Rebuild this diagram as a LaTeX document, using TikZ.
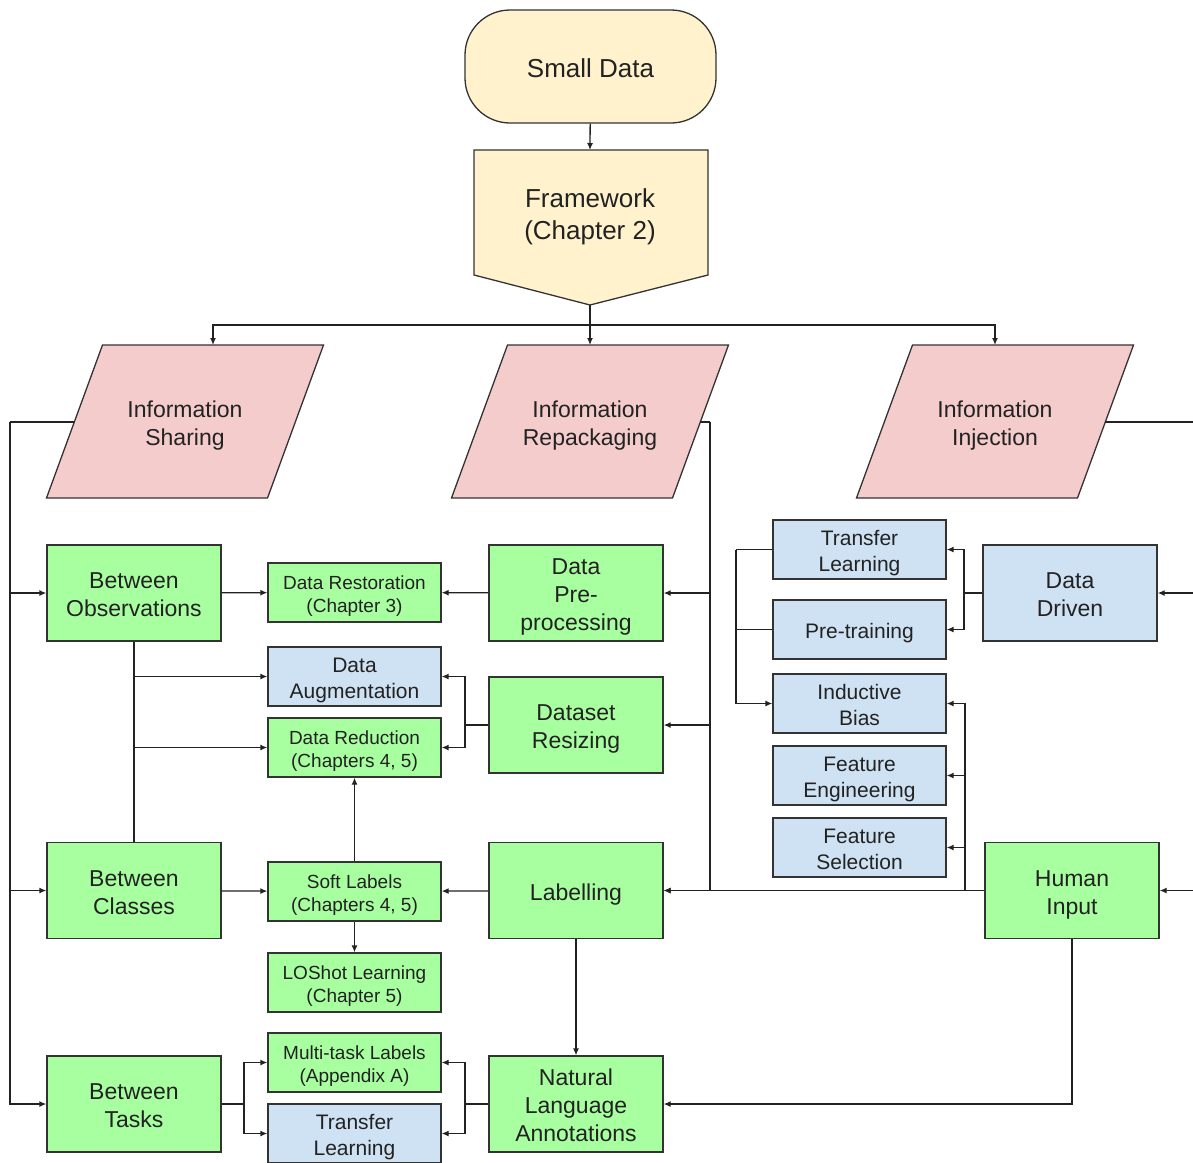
\documentclass[tikz,border=0pt]{standalone}
\usepackage{fontspec}
\setmainfont{Liberation Sans}
\usetikzlibrary{arrows.meta}

\definecolor{cream}{RGB}{255,242,204}
\definecolor{pinkfill}{RGB}{244,204,204}
\definecolor{greenfill}{RGB}{168,255,160}
\definecolor{bluefill}{RGB}{207,226,243}
\definecolor{edgec}{RGB}{51,51,51}
\definecolor{linec}{RGB}{34,34,34}
\definecolor{textc}{RGB}{34,34,34}

% strut for the first line of a label: fixed ascent above the first baseline
\newcommand{\fl}{\rule{0pt}{\dimexpr0.95em+3pt\relax}}

\begin{document}
\begin{tikzpicture}[x=1pt,y=-1pt,
  % fixed descent below the last baseline, with or without descenders
  vfix/.style={execute at end node={\rule[-0.22em]{0pt}{0pt}}},
  base/.style={draw=edgec, line width=1.3pt, align=center, inner sep=0pt, text=textc, vfix},
  bigbox/.style={base, fill=greenfill, minimum width=174pt, minimum height=96pt,
                 font=\fontsize{23}{28}\selectfont},
  bigblue/.style={bigbox, fill=bluefill},
  smallg/.style={base, fill=greenfill, minimum width=173pt, minimum height=59pt,
                 font=\fontsize{19}{23.5}\selectfont},
  smallb/.style={base, fill=bluefill, minimum width=173pt, minimum height=59pt,
                 font=\fontsize{21}{26}\selectfont},
  plain/.style={align=center, inner sep=0pt, text=textc, vfix},
  link/.style={draw=linec, line width=1.3pt},
  arr/.style={link, -{Latex[length=7pt,width=6pt]}}]

\useasboundingbox (0,0) rectangle (1193,1162);

% ---------- top: start and framework ----------
\node[base, fill=cream, rounded corners=45pt, minimum width=251pt, minimum height=113pt,
      font=\fontsize{26}{32}\selectfont] (small) at (590.5,66.5) {\fl Small Data};

\draw[draw=edgec, line width=1.3pt, fill=cream] (474,150) -- (708,150) -- (708,275) -- (590,305) -- (474,275) -- cycle;
\node[plain, font=\fontsize{26}{32}\selectfont] (fw) at (590,213) {\fl Framework\\(Chapter 2)};
\coordinate (fwN) at (590,150);
\coordinate (fwS) at (590,305);
\coordinate (split) at (590,325);

% ---------- the three information parallelograms ----------
\begin{scope}[draw=edgec, line width=1.3pt, fill=pinkfill]
\filldraw (102.5,345) -- (323.5,345) -- (267.5,498) -- (46.5,498) -- cycle;
\filldraw (507.5,345) -- (728.5,345) -- (672.5,498) -- (451.5,498) -- cycle;
\filldraw (912.5,345) -- (1133.5,345) -- (1077.5,498) -- (856.5,498) -- cycle;
\end{scope}
\node[plain, font=\fontsize{23}{28}\selectfont] (ishare) at (185,422) {\fl Information\\Sharing};
\node[plain, font=\fontsize{23}{28}\selectfont] (irep) at (590,422) {\fl Information\\Repackaging};
\node[plain, font=\fontsize{23}{28}\selectfont] (iinj) at (995,422) {\fl Information\\Injection};
\coordinate (ishareN) at (213,345);
\coordinate (irepN) at (590,345);
\coordinate (iinjN) at (995,345);
\coordinate (ishareW) at (74.3,422);
\coordinate (irepE) at (700.3,422);
\coordinate (iinjE) at (1105.3,422);

% ---------- left column ----------
\node[bigbox] (bobs) at (134,593) {\fl Between\\Observations};
\node[bigbox] (bcls) at (134,890.5) {\fl Between\\Classes};
\node[bigbox] (btask) at (134,1104) {\fl Between\\Tasks};

% ---------- second column ----------
\node[smallg] (drest) at (354.5,592.5) {\fl Data Restoration\\(Chapter 3)};
\node[smallb] (daug) at (354.5,676.5) {\fl Data\\Augmentation};
\node[smallg] (dred) at (354.5,747.5) {\fl Data Reduction\\(Chapters 4, 5)};
\node[smallg] (soft) at (354.5,891.5) {\fl Soft Labels\\(Chapters 4, 5)};
\node[smallg] (losh) at (354.5,982.5) {\fl LOShot Learning\\(Chapter 5)};
\node[smallg] (mtl) at (354.5,1062.5) {\fl Multi-task Labels\\(Appendix A)};
\node[smallb] (tlb) at (354.5,1133.5) {\fl Transfer\\Learning};

% ---------- third column ----------
\node[bigbox] (dprep) at (576,593) {\fl Data\\Pre-\\processing};
\node[bigbox] (dres) at (576,725) {\fl Dataset\\Resizing};
\node[bigbox] (lab) at (576,890.5) {\fl Labelling};
\node[bigbox] (nla) at (576,1104) {\fl Natural\\Language\\Annotations};

% ---------- right side ----------
\node[smallb] (tlt) at (859.5,549.5) {\fl Transfer\\Learning};
\node[smallb] (pret) at (859.5,629.5) {\fl Pre-training};
\node[smallb] (ibias) at (859.5,703.5) {\fl Inductive\\Bias};
\node[smallb] (feng) at (859.5,775.5) {\fl Feature\\Engineering};
\node[smallb] (fsel) at (859.5,847.5) {\fl Feature\\Selection};
\node[bigblue] (ddrv) at (1070,593) {\fl Data\\Driven};
\node[bigbox] (human) at (1072,890.5) {\fl Human\\Input};

% ---------- junction points ----------
\coordinate (busL) at (10,422);
\coordinate (busR) at (710,422);
\coordinate (busI) at (1198,422);
\coordinate (oj1) at (134,676.5);
\coordinate (oj2) at (134,747.5);
\coordinate (rj) at (465,725);
\coordinate (tj) at (244,1104);
\coordinate (nj) at (465,1104);
\coordinate (dj) at (964,593);
\coordinate (lj1) at (736,549.5);
\coordinate (lj2) at (736,629.5);
\coordinate (hj) at (965,890.5);

% ---------- connectors: top ----------
\draw[arr] (small) -- (fwN);
\draw[arr] (fwS) -- (irepN);
\draw[arr] (split) -| (ishareN);
\draw[arr] (split) -| (iinjN);

% information sharing bus
\draw[link] (ishareW) -- (busL);
\draw[arr] (busL) |- (bobs);
\draw[arr] (busL) |- (bcls);
\draw[arr] (busL) |- (btask);

% information repackaging bus
\draw[link] (irepE) -- (busR);
\draw[arr] (busR) |- (dprep);
\draw[arr] (busR) |- (dres);
\draw[arr] (busR) |- (lab);

% information injection bus
\draw[link] (iinjE) -- (busI);
\draw[arr] (busI) |- (ddrv);
\draw[arr] (busI) |- (human);

% between observations / classes / tasks
\draw[arr] (bobs) -- (drest);
\draw[link] (bobs) -- (bcls);
\draw[arr] (oj1) -- (daug);
\draw[arr] (oj2) -- (dred);
\draw[arr] (bcls) -- (soft);
\draw[link] (btask) -- (tj);
\draw[arr] (tj) |- (mtl);
\draw[arr] (tj) |- (tlb);

% repackaging children
\draw[arr] (dprep) -- (drest);
\draw[link] (dres) -- (rj);
\draw[arr] (rj) |- (daug);
\draw[arr] (rj) |- (dred);
\draw[arr] (lab) -- (soft);
\draw[arr] (soft) -- (dred);
\draw[arr] (soft) -- (losh);
\draw[arr] (lab) -- (nla);
\draw[link] (nla) -- (nj);
\draw[arr] (nj) |- (mtl);
\draw[arr] (nj) |- (tlb);

% injection children
\draw[link] (ddrv) -- (dj);
\draw[arr] (dj) |- (tlt);
\draw[arr] (dj) |- (pret);
\draw[link] (tlt.west) -- (lj1);
\draw[link] (pret.west) -- (lj2);
\draw[arr] (lj1) |- (ibias);
\draw[arr] (human) -- (lab);
\draw[arr] (hj) |- (ibias);
\draw[arr] (hj) |- (feng);
\draw[arr] (hj) |- (fsel);
\draw[arr] (human.south) |- (nla);

\end{tikzpicture}
\end{document}
